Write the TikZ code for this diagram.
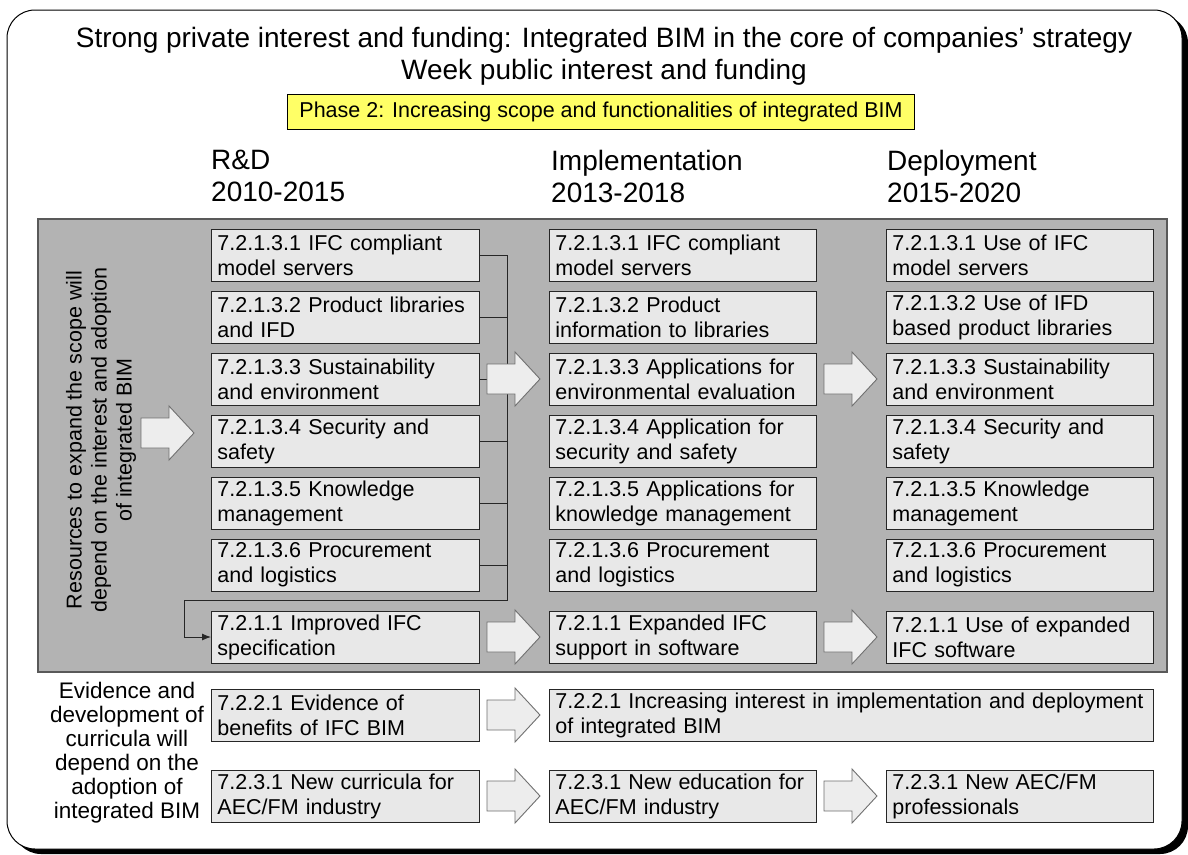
\documentclass[tikz,border=0pt]{standalone}
\usepackage{fontspec}
\setmainfont{Liberation Sans}
\usetikzlibrary{arrows.meta}
\definecolor{boxfill}{HTML}{E8E8E8}
\definecolor{panel}{HTML}{B3B3B3}
\definecolor{phase}{HTML}{FFFF66}
\definecolor{arrowfill}{HTML}{EDEDED}
\definecolor{arrowline}{HTML}{707070}
\tikzset{
  cell/.style={draw=black!85, line width=0.9pt, fill=boxfill, minimum height=52pt,
    text width=255pt, inner xsep=6pt, inner ysep=0pt, align=left, anchor=west,
    font=\fontsize{21.5}{25}\selectfont},
  widecell/.style={cell, text width=592pt},
  bigtext/.style={font=\fontsize{28}{32}\selectfont},
  midtext/.style={font=\fontsize{21.5}{25}\selectfont},
  blockarrow/.style={draw=arrowline, fill=arrowfill, line width=0.9pt, line join=miter},
  barrow/.pic={\path[blockarrow] (0,-15) -- (28,-15) -- (28,-27) -- (53,0) -- (28,27) -- (28,15) -- (0,15) -- cycle;},
  link/.style={draw=black!85, line width=0.9pt}
}
\begin{document}
\begin{tikzpicture}[x=1pt,y=-1pt]
\useasboundingbox (0,0) rectangle (1188,854);
% outer frame with shadow
\fill[black, rounded corners=28pt] (13,15) rectangle (1188,854);
\draw[fill=white, line width=1pt, rounded corners=28pt] (7,10) rectangle (1182,849);
% titles
\node[bigtext, align=center] (title) at (604,56) {Strong private interest and funding: Integrated BIM in the core of companies’ strategy\\Week public interest and funding};
\node[midtext, draw=black, line width=0.8pt, fill=phase, minimum width=627pt, minimum height=35pt, inner sep=0pt] (phase) at (601,112) {Phase 2: Increasing scope and functionalities of integrated BIM};
\node[bigtext, align=left, anchor=west, inner sep=0pt] (h1) at (211,176) {R\&D\\2010-2015};
\node[bigtext, align=left, anchor=west, inner sep=0pt] (h2) at (551,176) {Implementation\\2013-2018};
\node[bigtext, align=left, anchor=west, inner sep=0pt] (h3) at (887,176) {Deployment\\2015-2020};
% panel
\draw[fill=panel, draw=black!65, line width=1.4pt] (38,219) rectangle (1167,672);
\node[midtext, rotate=90, align=center] (res) at (101,440) {Resources to expand the scope will\\depend on the interest and adoption\\of integrated BIM};
% left column
\node[cell, text width=256pt] (l1) at (211,255) {7.2.1.3.1 IFC compliant\\model servers};
\node[cell, text width=256pt] (l2) at (211,317) {7.2.1.3.2 Product libraries\\and IFD};
\node[cell, text width=256pt] (l3) at (211,379) {7.2.1.3.3 Sustainability\\and environment};
\node[cell, text width=256pt] (l4) at (211,441) {7.2.1.3.4 Security and\\safety};
\node[cell, text width=256pt] (l5) at (211,503) {7.2.1.3.5 Knowledge\\management};
\node[cell, text width=256pt] (l6) at (211,565) {7.2.1.3.6 Procurement\\and logistics};
\node[cell, text width=256pt] (l7) at (211,637) {7.2.1.1 Improved IFC\\specification};
% middle column
\node[cell] (m1) at (549,255) {7.2.1.3.1 IFC compliant\\model servers};
\node[cell] (m2) at (549,317) {7.2.1.3.2 Product\\information to libraries};
\node[cell] (m3) at (549,379) {7.2.1.3.3 Applications for\\environmental evaluation};
\node[cell] (m4) at (549,441) {7.2.1.3.4 Application for\\security and safety};
\node[cell] (m5) at (549,503) {7.2.1.3.5 Applications for\\knowledge management};
\node[cell] (m6) at (549,565) {7.2.1.3.6 Procurement\\and logistics};
\node[cell] (m7) at (549,637) {7.2.1.1 Expanded IFC\\support in software};
% right column
\node[cell] (r1) at (886,255) {7.2.1.3.1 Use of IFC\\model servers};
\node[cell] (r2) at (886,317) {7.2.1.3.2 Use of IFD\\based product libraries};
\node[cell] (r3) at (886,379) {7.2.1.3.3 Sustainability\\and environment};
\node[cell] (r4) at (886,441) {7.2.1.3.4 Security and\\safety};
\node[cell] (r5) at (886,503) {7.2.1.3.5 Knowledge\\management};
\node[cell] (r6) at (886,565) {7.2.1.3.6 Procurement\\and logistics};
\node[cell] (r7) at (886,637) {7.2.1.1 Use of expanded\\IFC software};
% bottom rows
\node[align=center, font=\fontsize{22.5}{24}\selectfont] (ev) at (127,753) {Evidence and\\development of\\curricula will\\depend on the\\adoption of\\integrated BIM};
\node[cell, text width=256pt] (b1) at (211,715) {7.2.2.1 Evidence of\\benefits of IFC BIM};
\node[widecell] (b2) at (549,715) {7.2.2.1 Increasing interest in implementation and deployment\\of integrated BIM};
\node[cell, text width=256pt] (c1) at (211,796) {7.2.3.1 New curricula for\\AEC/FM industry};
\node[cell] (c2) at (549,796) {7.2.3.1 New education for\\AEC/FM industry};
\node[cell] (c3) at (886,796) {7.2.3.1 New AEC/FM\\professionals};
% connectors
\coordinate (bus) at (507,0);
\coordinate (busb) at (507,600);
\coordinate (turn) at (184,600);
\foreach \i in {1,...,6}{\path[link] (l\i.east) -- (l\i.east -| bus);}
\path[link] (l1.east -| bus) -- (busb) -- (turn);
\path[link, -{Latex[length=9pt,width=7pt]}] (turn) |- (l7.west);
% block arrows
\pic at (141,433) {barrow};
\pic at (487,379) {barrow};
\pic at (824,379) {barrow};
\pic at (487,637) {barrow};
\pic at (824,637) {barrow};
\pic at (487,715) {barrow};
\pic at (487,796) {barrow};
\pic at (824,796) {barrow};
\end{tikzpicture}
\end{document}
